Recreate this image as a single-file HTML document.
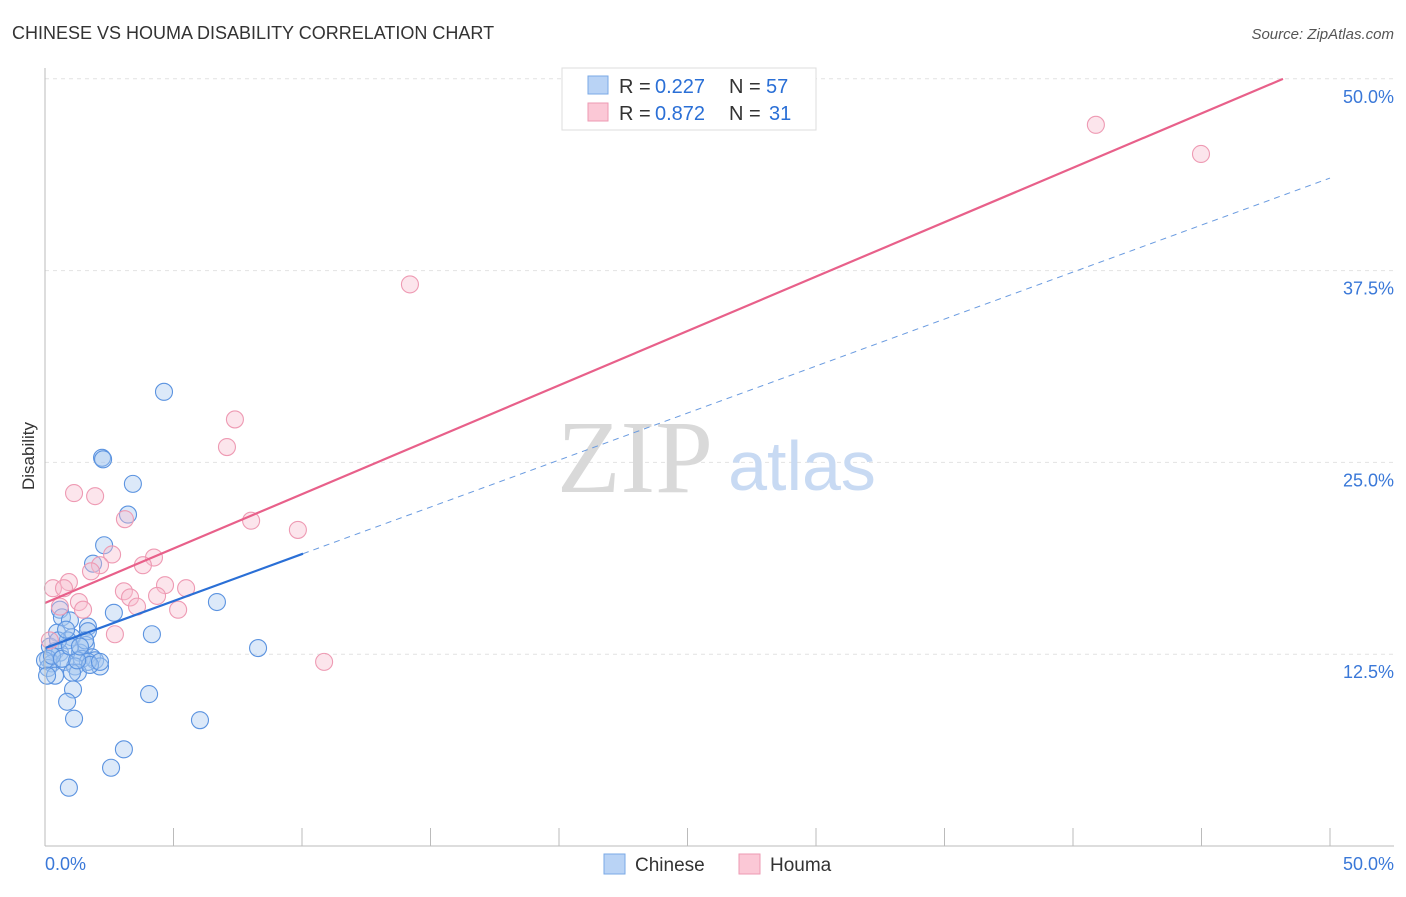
<!DOCTYPE html>
<html><head><meta charset="utf-8"><style>
body{margin:0;background:#fff;font-family:"Liberation Sans",sans-serif;}
svg text{font-family:"Liberation Sans",sans-serif;}
</style></head><body>
<svg width="1406" height="892">
<text x="12" y="39" font-size="18" fill="#333">CHINESE VS HOUMA DISABILITY CORRELATION CHART</text>
<text x="1394" y="39" font-size="15" fill="#555" text-anchor="end" font-style="italic">Source: ZipAtlas.com</text>
<g id="grid"></g>
<text x="635" y="492" font-size="104" fill="#d9d9d9" font-family="Liberation Serif" style="font-family:'Liberation Serif',serif" text-anchor="middle">ZIP</text>
<text x="802" y="490" font-size="70" fill="#c8daf3" text-anchor="middle">atlas</text>
<g id="pts"></g>
<g id="lines"></g>
<line x1="45" y1="68" x2="45" y2="846" stroke="#bbb"/>
<line x1="45" y1="846" x2="1394" y2="846" stroke="#bbb"/>
<text x="34" y="456" font-size="17" fill="#333" text-anchor="middle" transform="rotate(-90 34 456)">Disability</text>
<text x="45" y="870" font-size="18" fill="#3a78d8">0.0%</text>
<text x="1394" y="870" font-size="18" fill="#3a78d8" text-anchor="end">50.0%</text>
<g>
<rect x="562" y="68" width="254" height="62" fill="#fff" stroke="#ddd"/>
<rect x="588" y="76" width="20" height="18" fill="#b9d3f5" stroke="#7aa8e6"/>
<text x="619" y="93" font-size="20" fill="#333">R =</text>
<text x="655" y="93" font-size="20" fill="#2a6fd6">0.227</text>
<text x="729" y="93" font-size="20" fill="#333">N =</text>
<text x="766" y="93" font-size="20" fill="#2a6fd6">57</text>
<rect x="588" y="103" width="20" height="18" fill="#fbc8d6" stroke="#ee9ab3"/>
<text x="619" y="120" font-size="20" fill="#333">R =</text>
<text x="655" y="120" font-size="20" fill="#2a6fd6">0.872</text>
<text x="729" y="120" font-size="20" fill="#333">N =</text>
<text x="769" y="120" font-size="20" fill="#2a6fd6">31</text>
</g>
<g>
<rect x="604" y="854" width="21" height="20" fill="#b9d3f5" stroke="#7aa8e6"/>
<text x="635" y="871" font-size="19" fill="#333">Chinese</text>
<rect x="739" y="854" width="21" height="20" fill="#fbc8d6" stroke="#ee9ab3"/>
<text x="770" y="871" font-size="19" fill="#333">Houma</text>
</g>
</svg>
<script>
const yTicks=[12.5,25,37.5,50];
const yTickLabels=["12.5%","25.0%","37.5%","50.0%"];
const xTicks=[0,5,10,15,20,25,30,35,40,45,50];
const chineseX=[4.63,2.22,2.26,3.42,3.23,2.30,1.87,2.68,6.69,4.16,8.29,0.58,0.66,0.97,1.67,1.67,0.47,1.05,0.89,0.19,0.39,0.58,0.12,0.27,1.59,1.36,1.83,1.95,1.44,2.14,1.67,0.78,1.17,1.28,1.05,0.12,0.39,1.09,4.05,0.86,1.13,6.03,3.07,2.57,0.93,0.0,0.08,0.51,0.27,1.75,0.66,1.25,0.97,1.56,2.14,0.82,1.36];
const chineseY=[29.6,25.3,25.2,23.6,21.6,19.6,18.4,15.2,15.9,13.8,12.9,15.4,14.9,14.7,14.3,14.0,13.9,13.6,13.4,13.0,12.7,12.6,12.2,11.9,13.1,12.6,12.3,12.1,12.2,11.7,12.0,12.0,11.7,11.3,11.3,11.6,11.1,10.2,9.9,9.4,8.3,8.2,6.3,5.1,3.8,12.1,11.1,13.4,12.4,11.8,12.2,12.1,13.0,13.4,12.0,14.1,13.0];
const houmaX=[40.89,44.98,14.2,7.39,7.08,1.13,1.95,3.11,8.02,9.84,2.61,4.24,2.14,1.79,3.81,0.93,0.31,0.74,4.67,5.49,3.07,3.31,4.36,1.32,3.58,5.18,0.58,1.48,2.72,10.86,0.19];
const houmaY=[47.0,45.1,36.6,27.8,26.0,23.0,22.8,21.3,21.2,20.6,19.0,18.8,18.3,17.9,18.3,17.2,16.8,16.8,17.0,16.8,16.6,16.2,16.3,15.9,15.6,15.4,15.6,15.4,13.8,12.0,13.4];
const trendPink=[15.84,0.709], trendBlue=[12.9,0.6126];
const X=v=>45+v*25.7, Y=v=>846-v*15.344;
const NS="http://www.w3.org/2000/svg";
function mk(t,a,p){const e=document.createElementNS(NS,t);for(const k in a)e.setAttribute(k,a[k]);p.appendChild(e);return e;}
const grid=document.getElementById('grid');
yTicks.forEach((v,i)=>{
 const l=mk('line',{x1:45,x2:1394,y1:Y(v),y2:Y(v),stroke:'#e2e2e2','stroke-dasharray':'4,4'},grid);
 
 
 const t=mk('text',{x:1394,y:Y(v)+24,'font-size':18,fill:'#3a78d8','text-anchor':'end'},grid);
 t.textContent=yTickLabels[i];
 
 
});
xTicks.forEach(v=>{
 const l=mk('line',{x1:X(v),x2:X(v),y1:828,y2:846,stroke:'#bbb'},grid);
 
 
});
const pts=document.getElementById('pts');
chineseX.forEach((x,i)=>{
 const c=mk('circle',{cx:X(x),cy:Y(chineseY[i]),r:8.5,fill:'rgba(168,200,240,0.4)',stroke:'#5b93e0','stroke-width':1.1},pts);
 
 
});
houmaX.forEach((x,i)=>{
 const c=mk('circle',{cx:X(x),cy:Y(houmaY[i]),r:8.5,fill:'rgba(248,190,208,0.4)',stroke:'#ee9ab3','stroke-width':1.1},pts);
 
 
});
const lines=document.getElementById('lines');
let l=mk('line',{x1:X(0),y1:Y(trendPink[0]),x2:X(48.17),y2:Y(trendPink[0]+trendPink[1]*48.17),stroke:'#e8608a','stroke-width':2.2},lines);


l=mk('line',{x1:X(0),y1:Y(trendBlue[0]),x2:X(10.04),y2:Y(trendBlue[0]+trendBlue[1]*10.04),stroke:'#2a6fd6','stroke-width':2.2},lines);


l=mk('line',{x1:X(10.04),y1:Y(trendBlue[0]+trendBlue[1]*10.04),x2:X(50),y2:Y(trendBlue[0]+trendBlue[1]*50),stroke:'#6a9be0','stroke-width':1,'stroke-dasharray':'6,5'},lines);


</script>
</body></html>
